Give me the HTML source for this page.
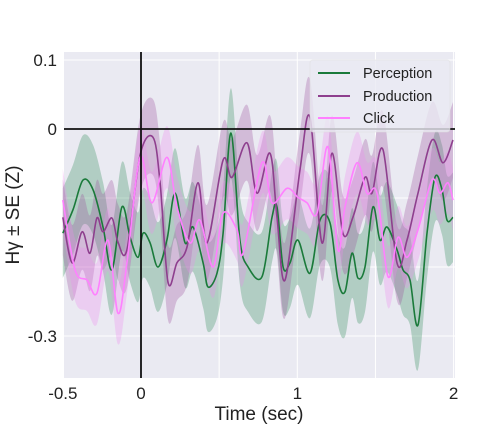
<!DOCTYPE html>
<html><head><meta charset="utf-8"><style>
body{margin:0;background:#fff;}
svg{display:block;font-family:"Liberation Sans",sans-serif;}
</style></head><body>
<svg id="chart" width="504" height="432" viewBox="0 0 504 432" xmlns="http://www.w3.org/2000/svg">
<rect x="64" y="52" width="391" height="326" fill="#eaeaf2"/>
<g id="grid"></g>
<g id="bands"></g>
<g id="lines"></g>
<g id="refs"></g>
<g id="xticks"></g>
<g id="yticks"></g>
<text x="259" y="420" font-size="19" text-anchor="middle" fill="#222">Time (sec)</text>
<text transform="translate(19,215) rotate(-90)" font-size="19" text-anchor="middle" fill="#222">Hγ ± SE (Z)</text>
<g>
<rect x="310" y="60" width="140" height="72" rx="3" fill="#eaeaf2" fill-opacity="0.8" stroke="#ddd" stroke-opacity="0.5"/>
<g><line x1="318" y1="73" x2="350" y2="73" stroke="#1a7a3a" stroke-width="2"/><text x="363" y="78" font-size="14.5" fill="#222">Perception</text></g>
<g><line x1="318" y1="96" x2="350" y2="96" stroke="#8e3f8e" stroke-width="2"/><text x="363" y="101" font-size="14.5" fill="#222">Production</text></g>
<g><line x1="318" y1="118" x2="350" y2="118" stroke="#ff80ff" stroke-width="2"/><text x="363" y="123" font-size="14.5" fill="#222">Click</text></g>
</g>
</svg>
<script>
const percT=[-0.5,-0.435,-0.371,-0.307,-0.243,-0.186,-0.122,-0.07,-0.019,0.013,0.058,0.109,0.166,0.218,0.282,0.333,0.397,0.429,0.486,0.525,0.576,0.633,0.685,0.774,0.838,0.87,0.909,0.953,1.004,1.081,1.145,1.209,1.26,1.305,1.35,1.388,1.433,1.484,1.529,1.574,1.638,1.676,1.721,1.772,1.83,1.881,1.926,1.958,1.996];
const percV=[-0.151,-0.117,-0.074,-0.088,-0.142,-0.204,-0.113,-0.157,-0.186,-0.151,-0.165,-0.2,-0.161,-0.093,-0.165,-0.142,-0.194,-0.229,-0.209,-0.151,-0.006,-0.161,-0.2,-0.214,-0.128,-0.113,-0.2,-0.194,-0.161,-0.209,-0.132,-0.136,-0.219,-0.236,-0.18,-0.216,-0.2,-0.113,-0.161,-0.142,-0.175,-0.204,-0.219,-0.284,-0.151,-0.07,-0.088,-0.132,-0.128];
const prodT=[-0.5,-0.441,-0.377,-0.326,-0.282,-0.243,-0.186,-0.147,-0.09,-0.006,0.077,0.122,0.173,0.23,0.294,0.365,0.422,0.525,0.582,0.678,0.742,0.825,0.87,0.921,1.017,1.081,1.158,1.222,1.292,1.356,1.433,1.478,1.548,1.638,1.702,1.772,1.862,1.932,1.996];
const prodV=[-0.128,-0.194,-0.149,-0.18,-0.129,-0.149,-0.129,-0.164,-0.175,-0.038,-0.012,-0.078,-0.222,-0.194,-0.171,-0.078,-0.165,-0.045,-0.07,-0.02,-0.093,-0.035,-0.128,-0.219,-0.059,0.017,-0.165,-0.035,-0.151,-0.128,-0.07,-0.093,-0.03,-0.194,-0.161,-0.093,-0.016,-0.049,-0.016];
const clickT=[-0.5,-0.422,-0.345,-0.282,-0.211,-0.147,-0.09,-0.006,0.07,0.166,0.23,0.314,0.377,0.461,0.525,0.614,0.653,0.774,0.838,0.934,1.004,1.062,1.126,1.196,1.26,1.305,1.382,1.446,1.51,1.58,1.644,1.702,1.772,1.862,1.913,1.964,1.996];
const clickV=[-0.103,-0.204,-0.219,-0.238,-0.161,-0.267,-0.194,-0.041,-0.107,-0.041,-0.113,-0.165,-0.132,-0.2,-0.122,-0.146,-0.18,-0.049,-0.107,-0.086,-0.099,-0.107,-0.122,-0.026,-0.175,-0.113,-0.049,-0.093,-0.093,-0.214,-0.157,-0.186,-0.146,-0.074,-0.093,-0.078,-0.103];
const seValues=[0.065,0.055,0.045];
const xTicks=[-0.5,0,1,2];
const xTickLabels=["-0.5","0","1","2"];
const xGrid=[-0.5,0,0.5,1,1.5,2];
const yTicks=[0.1,0,-0.3];
const yTickLabels=["0.1","0","-0.3"];
const yGrid=[0.1,0,-0.1,-0.2,-0.3];

const X=t=>141+(t)*156.3;
const Y=v=>129-v*690;
const NS="http://www.w3.org/2000/svg";
function mk(tag,attrs,parent){const e=document.createElementNS(NS,tag);for(const k in attrs)e.setAttribute(k,attrs[k]);parent.appendChild(e);return e;}
function smooth(pts){let d="M"+pts[0][0].toFixed(1)+","+pts[0][1].toFixed(1);
 for(let i=0;i<pts.length-1;i++){const p0=pts[Math.max(0,i-1)],p1=pts[i],p2=pts[i+1],p3=pts[Math.min(pts.length-1,i+2)];
 const c1=[p1[0]+(p2[0]-p0[0])/6,p1[1]+(p2[1]-p0[1])/6],c2=[p2[0]-(p3[0]-p1[0])/6,p2[1]-(p3[1]-p1[1])/6];
 d+="C"+c1[0].toFixed(1)+","+c1[1].toFixed(1)+" "+c2[0].toFixed(1)+","+c2[1].toFixed(1)+" "+p2[0].toFixed(1)+","+p2[1].toFixed(1);}
 return d;}
const grid=document.getElementById('grid');
xGrid.forEach(t=>{const l=mk('line',{x1:X(t),x2:X(t),y1:52,y2:378,stroke:'#fff','stroke-width':1},grid);

});
yGrid.forEach(v=>{const l=mk('line',{x1:64,x2:455,y1:Y(v),y2:Y(v),stroke:'#fff','stroke-width':1},grid);

});
const series=[[percT,percV,'#1a7a3a','#2e8b57','perception'],[prodT,prodV,'#8e3f8e','#9b4f9b','production'],[clickT,clickV,'#ff80ff','#f08cf0','click']];
const bands=document.getElementById('bands'),lines=document.getElementById('lines');
series.forEach((s,i)=>{const [T,V,col,fill,nm]=s;const se=seValues[i];
 const up=T.map((t,j)=>[X(t),Y(V[j]+se)]),lo=T.map((t,j)=>[X(t),Y(V[j]-se)]).reverse();
 const d=smooth(up)+"L"+smooth(lo).slice(1)+"Z";
 const b=mk('path',{d:d,fill:fill,'fill-opacity':0.3,stroke:'none'},bands);
 
 
 const l=mk('path',{d:smooth(T.map((t,j)=>[X(t),Y(V[j])])),fill:'none',stroke:col,'stroke-width':1.6},lines);
 
 });
const refs=document.getElementById('refs');
const vl=mk('line',{x1:X(0),x2:X(0),y1:52,y2:378,stroke:'#111','stroke-width':1.8},refs);


const hl=mk('line',{x1:64,x2:455,y1:Y(0),y2:Y(0),stroke:'#111','stroke-width':1.8},refs);


const xt=document.getElementById('xticks');
xTicks.forEach((t,i)=>{const e=mk('text',{x:X(t),y:399,'font-size':17,'text-anchor':'middle',fill:'#222'},xt);e.textContent=xTickLabels[i];

});
const yt=document.getElementById('yticks');
yTicks.forEach((v,i)=>{const e=mk('text',{x:57,y:Y(v)+6,'font-size':17,'text-anchor':'end',fill:'#222'},yt);e.textContent=yTickLabels[i];

});
</script>
</body></html>
